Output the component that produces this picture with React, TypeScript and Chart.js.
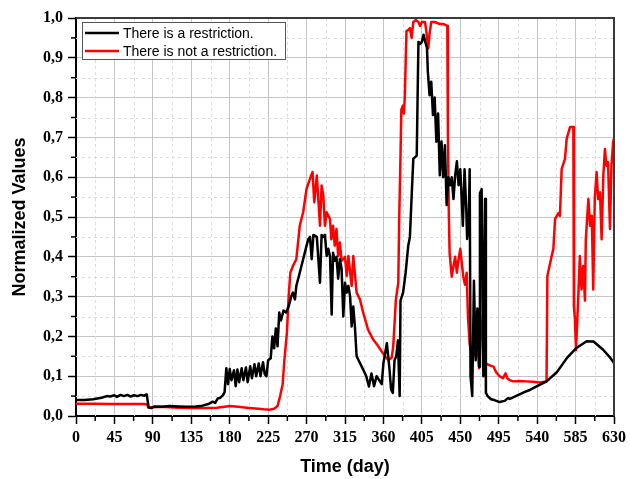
import React, { useEffect, useRef } from 'react';
import { Chart, registerables } from 'chart.js';

Chart.register(...registerables);

const seriesLabels = ['There is a restriction.', 'There is not a restriction.'];
const seriesColors = ['#000000', '#ff0000'];

const xTicks = [0, 45, 90, 135, 180, 225, 270, 315, 360, 405, 450, 495, 540, 585, 630];
const yTicks = [0, 0.1, 0.2, 0.3, 0.4, 0.5, 0.6, 0.7, 0.8, 0.9, 1.0];

const restrictDays = [
  0, 10, 20, 30, 36, 40, 45, 48, 52, 56, 60, 64, 68, 72, 76, 80, 82, 83, 85, 88, 92, 100, 110, 120, 130, 140,
  148, 155, 160, 163, 166, 169, 172, 174, 176, 178, 180, 182, 185, 187, 189, 191, 194, 196, 199, 201, 204, 206,
  209, 211, 214, 216, 219, 221, 223, 225, 228, 230, 232, 234, 236, 238, 240, 243, 246, 249, 252, 254, 256.4, 258,
  262, 266, 270, 272, 274, 276, 278, 282, 285.7, 287.6, 289.6, 291.5, 293.5, 295.5, 297.5, 299.4, 301, 303, 305,
  307, 309, 311, 313, 315, 317, 319, 321, 322.8, 324.7, 326.6, 328.6, 332.5, 336.4, 340, 343, 346, 349, 352, 355,
  358, 360, 364, 367, 369, 371, 373, 375, 377, 379, 380, 383, 386, 389, 391, 393, 395, 399, 400, 401, 403, 405,
  407, 409, 411, 412, 414, 416, 418, 420, 422, 424, 426, 428, 430, 432, 434, 436, 438, 440, 442, 444, 446, 448,
  450, 452, 453, 455, 457, 458, 460, 461, 462, 464, 466, 468, 470, 472, 473, 475, 477, 479, 480, 482, 486, 490,
  496, 502, 506, 508, 515, 525, 532, 540, 551, 563, 575, 586, 598, 606, 617, 625, 630
];
const restrictValues = [
  0.040, 0.040, 0.042, 0.046, 0.050, 0.049, 0.052, 0.048, 0.053, 0.050, 0.053, 0.049, 0.052, 0.050, 0.053, 0.051,
  0.054, 0.052, 0.022, 0.020, 0.024, 0.023, 0.025, 0.024, 0.023, 0.024, 0.026, 0.030, 0.036, 0.033, 0.044, 0.046,
  0.052, 0.060, 0.120, 0.080, 0.118, 0.090, 0.115, 0.075, 0.117, 0.085, 0.120, 0.090, 0.122, 0.085, 0.125, 0.095,
  0.130, 0.100, 0.132, 0.100, 0.135, 0.105, 0.100, 0.140, 0.145, 0.200, 0.170, 0.220, 0.175, 0.260, 0.240, 0.265,
  0.260, 0.275, 0.300, 0.310, 0.293, 0.327, 0.360, 0.394, 0.428, 0.444, 0.450, 0.394, 0.455, 0.450, 0.335, 0.455,
  0.450, 0.455, 0.402, 0.420, 0.400, 0.255, 0.410, 0.390, 0.400, 0.345, 0.394, 0.370, 0.250, 0.335, 0.310, 0.327,
  0.300, 0.225, 0.275, 0.225, 0.150, 0.133, 0.116, 0.099, 0.074, 0.107, 0.075, 0.100, 0.090, 0.080, 0.133, 0.183,
  0.120, 0.066, 0.058, 0.140, 0.150, 0.190, 0.050, 0.290, 0.310, 0.360, 0.427, 0.450, 0.550, 0.646, 0.654, 0.800,
  0.940, 0.935, 0.940, 0.958, 0.940, 0.925, 0.866, 0.806, 0.840, 0.756, 0.800, 0.689, 0.760, 0.605, 0.690, 0.600,
  0.680, 0.530, 0.600, 0.580, 0.600, 0.545, 0.604, 0.640, 0.580, 0.620, 0.530, 0.478, 0.620, 0.520, 0.445, 0.500,
  0.620, 0.100, 0.050, 0.340, 0.140, 0.270, 0.124, 0.560, 0.570, 0.100, 0.545, 0.058, 0.050, 0.042, 0.040, 0.035,
  0.038, 0.045, 0.043, 0.050, 0.060, 0.066, 0.075, 0.087, 0.110, 0.146, 0.171, 0.188, 0.187, 0.167, 0.148, 0.133
];

const freeDays = [
  0, 20, 40, 60, 80, 83, 85, 90, 100, 110, 120, 135, 150, 165, 176, 180, 190, 200, 210, 220, 227, 232, 236, 239,
  242, 244, 247, 249, 251, 254, 258, 262, 266, 270, 274, 277, 279, 282, 285.7, 287.6, 289.6, 291.5, 293.5, 297.4,
  299, 301, 303, 305, 307, 309, 311, 313, 315, 317, 319, 321, 322.8, 324.7, 328.6, 332.5, 336.4, 342, 348, 354,
  358, 362, 365.7, 369.6, 371.5, 374.6, 377.4, 378.5, 379.5, 381, 383, 384, 385, 387, 389, 391, 393, 395, 398,
  401, 403, 405, 408.7, 410, 412.6, 414, 416, 420, 426, 430, 434.8, 435.5, 436.5, 437.5, 440, 442, 444, 446,
  447.7, 450, 452, 453.5, 455.5, 457.5, 459, 461, 463, 465, 467, 469, 470, 472, 474, 477, 479, 482, 486, 489,
  492, 496, 500, 503, 505, 508, 512, 520, 527, 535, 543, 551, 552, 557, 559, 561, 565, 566.7, 568.7, 572.6,
  574.6, 578.5, 582.4, 583, 584.3, 585.5, 588, 590, 592, 594, 596, 597, 600, 602, 604, 605.7, 607.5, 609.6,
  611.5, 613.6, 615.5, 617.5, 619.4, 621, 623, 625.3, 627, 629, 630
];
const freeValues = [
  0.031, 0.031, 0.030, 0.030, 0.030, 0.029, 0.021, 0.022, 0.023, 0.022, 0.021, 0.020, 0.020, 0.021, 0.024, 0.025,
  0.023, 0.021, 0.019, 0.017, 0.016, 0.018, 0.025, 0.050, 0.080, 0.140, 0.210, 0.300, 0.360, 0.377, 0.394, 0.478,
  0.512, 0.571, 0.596, 0.613, 0.537, 0.604, 0.478, 0.579, 0.554, 0.478, 0.512, 0.495, 0.444, 0.478, 0.428, 0.470,
  0.402, 0.436, 0.390, 0.394, 0.400, 0.352, 0.402, 0.360, 0.327, 0.402, 0.310, 0.293, 0.259, 0.217, 0.192, 0.175,
  0.162, 0.150, 0.141, 0.146, 0.175, 0.293, 0.335, 0.500, 0.600, 0.770, 0.780, 0.760, 0.800, 0.967, 0.970, 0.975,
  0.950, 0.990, 0.995, 0.990, 0.980, 0.990, 0.990, 0.970, 0.924, 0.960, 0.990, 0.990, 0.985, 0.985, 0.980, 0.710,
  0.520, 0.410, 0.350, 0.376, 0.400, 0.360, 0.390, 0.420, 0.380, 0.350, 0.330, 0.360, 0.250, 0.180, 0.160, 0.150,
  0.160, 0.150, 0.220, 0.120, 0.200, 0.260, 0.133, 0.130, 0.126, 0.124, 0.110, 0.100, 0.095, 0.107, 0.095, 0.090,
  0.087, 0.088, 0.087, 0.086, 0.084, 0.087, 0.352, 0.402, 0.420, 0.495, 0.510, 0.503, 0.620, 0.646, 0.697, 0.726,
  0.726, 0.276, 0.242, 0.166, 0.290, 0.402, 0.318, 0.377, 0.290, 0.444, 0.545, 0.478, 0.503, 0.318, 0.545, 0.613,
  0.545, 0.562, 0.444, 0.604, 0.671, 0.629, 0.638, 0.470, 0.629, 0.688, 0.697
];

const tickFont = { family: '"Liberation Serif", "Times New Roman", serif', size: 16, weight: 'bold' as const };
const titleFont = { family: '"Liberation Sans", Arial, sans-serif', size: 18, weight: 'bold' as const };

const decorPlugin = {
  id: 'decor',
  beforeDatasetsDraw(chart: any) {
    const { ctx, chartArea: a, scales } = chart;
    const x = scales.x;
    const y = scales.y;
    ctx.save();
    ctx.strokeStyle = '#dcdcdc';
    ctx.lineWidth = 1;
    ctx.setLineDash([3, 3]);
    for (let i = 0; i < xTicks.length - 1; i++) {
      const px = Math.round(x.getPixelForValue((xTicks[i] + xTicks[i + 1]) / 2)) + 0.5;
      ctx.beginPath(); ctx.moveTo(px, a.top); ctx.lineTo(px, a.bottom); ctx.stroke();
    }
    for (let i = 0; i < yTicks.length - 1; i++) {
      const py = Math.round(y.getPixelForValue((yTicks[i] + yTicks[i + 1]) / 2)) + 0.5;
      ctx.beginPath(); ctx.moveTo(a.left, py); ctx.lineTo(a.right, py); ctx.stroke();
    }
    ctx.setLineDash([]);
    ctx.strokeStyle = '#000';
    ctx.lineWidth = 1.5;
    for (let i = 0; i < xTicks.length - 1; i++) {
      const px = x.getPixelForValue((xTicks[i] + xTicks[i + 1]) / 2);
      ctx.beginPath(); ctx.moveTo(px, a.bottom); ctx.lineTo(px, a.bottom + 5); ctx.stroke();
    }
    for (let i = 0; i < yTicks.length - 1; i++) {
      const py = y.getPixelForValue((yTicks[i] + yTicks[i + 1]) / 2);
      ctx.beginPath(); ctx.moveTo(a.left - 5, py); ctx.lineTo(a.left, py); ctx.stroke();
    }
    ctx.restore();
  },
  afterDatasetsDraw(chart: any) {
    const { ctx, chartArea: a } = chart;
    ctx.save();
    ctx.strokeStyle = '#3a3a3a';
    ctx.lineWidth = 2;
    ctx.beginPath();
    ctx.moveTo(a.left, a.top);
    ctx.lineTo(a.right, a.top);
    ctx.lineTo(a.right, a.bottom);
    ctx.stroke();
    const lx = a.left + 6;
    const ly = a.top + 4;
    const lw = 203;
    const lh = 37;
    ctx.fillStyle = '#ffffff';
    ctx.fillRect(lx, ly, lw, lh);
    ctx.strokeStyle = '#555';
    ctx.lineWidth = 1;
    ctx.strokeRect(lx + 0.5, ly + 0.5, lw, lh);
    ctx.font = '14px "Liberation Sans", Arial, sans-serif';
    ctx.textBaseline = 'middle';
    seriesLabels.forEach((lab, i) => {
      const yy = ly + 11 + i * 18;
      ctx.strokeStyle = seriesColors[i];
      ctx.lineWidth = 2.5;
      ctx.beginPath(); ctx.moveTo(lx + 3, yy); ctx.lineTo(lx + 37, yy); ctx.stroke();
      ctx.fillStyle = '#000';
      ctx.fillText(lab, lx + 41, yy + 1);
    });
    ctx.restore();
  },
};

export default function App() {
  const ref = useRef<HTMLCanvasElement | null>(null);
  useEffect(() => {
    document.body.style.margin = '0';
    if (!ref.current) return;
    const chart = new Chart(ref.current, {
      type: 'line',
      data: {
        datasets: [
          {
            label: seriesLabels[0],
            data: restrictDays.map((d, i) => ({ x: d, y: restrictValues[i] })),
            borderColor: seriesColors[0],
            borderWidth: 2.5,
            pointRadius: 0,
            tension: 0,
            borderJoinStyle: 'round',
          },
          {
            label: seriesLabels[1],
            data: freeDays.map((d, i) => ({ x: d, y: freeValues[i] })),
            borderColor: seriesColors[1],
            borderWidth: 2.5,
            pointRadius: 0,
            tension: 0,
            borderJoinStyle: 'round',
          },
        ],
      },
      options: {
        responsive: false,
        animation: false,
        devicePixelRatio: 1,
        layout: { padding: { left: 0, top: 18, right: 16, bottom: 0 } },
        plugins: { legend: { display: false }, tooltip: { enabled: false } },
        scales: {
          x: {
            type: 'linear',
            min: 0,
            max: 630,
            afterBuildTicks: (s: any) => { s.ticks = xTicks.map((v) => ({ value: v })); },
            afterFit: (s: any) => { s.height = 63; },
            ticks: { font: tickFont, color: '#000', padding: 4, maxRotation: 0, autoSkip: false, callback: (v: any) => String(v) },
            grid: { color: '#c4c4c4', lineWidth: 1, tickLength: 8, tickColor: '#000', tickWidth: 1.5 },
            border: { display: true, color: '#000', width: 2 },
            title: { display: true, text: 'Time (day)', font: titleFont, color: '#000', padding: { top: 0, bottom: 1 } },
          },
          y: {
            type: 'linear',
            min: 0,
            max: 1,
            afterBuildTicks: (s: any) => { s.ticks = yTicks.map((v) => ({ value: v })); },
            afterFit: (s: any) => { s.width = 76; },
            ticks: { font: tickFont, color: '#000', padding: 5, autoSkip: false, callback: (v: any) => Number(v).toFixed(1).replace('.', ',') },
            grid: { color: '#c4c4c4', lineWidth: 1, tickLength: 8, tickColor: '#000', tickWidth: 1.5 },
            border: { display: true, color: '#000', width: 2 },
            title: { display: true, text: 'Normalized Values', font: titleFont, color: '#000', padding: { top: 9, bottom: 0 } },
          },
        },
      },
      plugins: [decorPlugin],
    } as any);
    return () => chart.destroy();
  }, []);
  return (
    <div style={{ position: 'absolute', left: 0, top: 0, width: 630, height: 479 }}>
      <canvas ref={ref} width={630} height={479} />
    </div>
  );
}
